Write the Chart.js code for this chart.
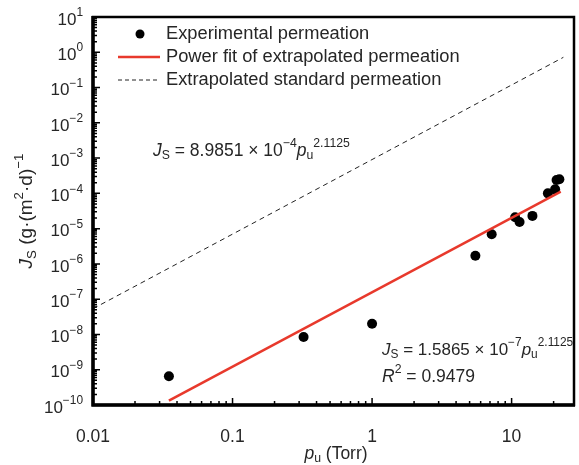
<!DOCTYPE html>
<html>
<head>
<meta charset="utf-8">
<script src="https://cdn.jsdelivr.net/npm/chart.js@4.4.1/dist/chart.umd.min.js"></script>
<style>
  html, body { margin: 0; padding: 0; background: #fff; }
  #wrap { width: 579px; height: 465px; position: relative; }
</style>
</head>
<body>
<div id="wrap"><canvas id="permChart"></canvas></div>
<script>
// measured points, p_u in Torr, J_S in g/(m2 d)
const expP = [0.035, 0.323, 1.0, 5.5, 7.2, 10.6, 11.4, 14.1, 18.2, 20.5, 21.0, 22.0];
const expJ = [6.5e-10, 8.5e-9, 2.0e-8, 1.7e-6, 6.9e-6, 2.1e-5, 1.55e-5, 2.3e-5, 1.0e-4, 1.3e-4, 2.4e-4, 2.5e-4];

// end points of the two power law lines
const fitP = [0.035, 22.5];
const fitJ = [1.33e-10, 1.12e-4];
const stdP = [0.01, 23.5];
const stdJ = [5.37e-8, 0.72];

const xDecades = [0.01, 0.1, 1, 10];
const xLabels = ['0.01', '0.1', '1', '10'];
const yExponents = [1, 0, -1, -2, -3, -4, -5, -6, -7, -8, -9, -10];

const FONT = '"Liberation Sans", Arial, sans-serif';
const RED = '#e8392c';
const TEXT = '#262626';

const pairs = (xs, ys) => xs.map((x, i) => ({ x: x, y: ys[i] }));

// draw a run of text pieces, each can be italic / sub / sup
const richText = (ctx, parts, x, y, size, align) => {
  const setFont = (p) => {
    const s = p.sub || p.sup ? size * 0.7 : size;
    ctx.font = (p.it ? 'italic ' : '') + s + 'px ' + FONT;
  };
  let total = parts.reduce((acc, p) => { setFont(p); return acc + ctx.measureText(p.t).width; }, 0);
  let cx = align == 'center' ? x - total / 2 : align == 'right' ? x - total : x;
  parts.forEach(p => {
    setFont(p);
    let dy = 0;
    if (p.sub) dy = size * 0.28;
    if (p.sup) dy = -size * 0.42;
    ctx.fillText(p.t, cx, y + dy);
    cx += ctx.measureText(p.t).width;
  });
};

const frame = {
  id: 'frame',
  afterDraw: (chart) => {
    const ctx = chart.ctx;
    const a = chart.chartArea;
    const xs = chart.scales.x;
    const ys = chart.scales.y;
    ctx.save();
    ctx.fillStyle = '#000';
    ctx.strokeStyle = '#000';

    // ticks, inward
    ctx.lineWidth = 1.5;
    ctx.beginPath();
    for (let e = -10; e <= 0; e++) {
      for (let m = 1; m <= 9; m++) {
        const v = m * Math.pow(10, e);
        const py = ys.getPixelForValue(v);
        const len = m == 1 ? 7 : 4;
        ctx.moveTo(a.left, py);
        ctx.lineTo(a.left + len, py);
      }
    }
    for (let e = -2; e <= 1; e++) {
      for (let m = 1; m <= 9; m++) {
        const v = m * Math.pow(10, e);
        if (v > xs.max) break;
        const px = xs.getPixelForValue(v);
        const len = m == 1 ? 7 : 4;
        ctx.moveTo(px, a.bottom);
        ctx.lineTo(px, a.bottom - len);
      }
    }
    ctx.stroke();

    // box
    ctx.lineWidth = 2.5;
    ctx.strokeRect(a.left, a.top, a.right - a.left, a.bottom - a.top);
    ctx.lineWidth = 3.5;
    ctx.beginPath();
    ctx.moveTo(a.left, a.top - 1);
    ctx.lineTo(a.left, a.bottom + 1.5);
    ctx.moveTo(a.left - 1.5, a.bottom);
    ctx.lineTo(a.right + 1, a.bottom);
    ctx.stroke();

    // tick labels
    ctx.fillStyle = TEXT;
    ctx.textBaseline = 'middle';
    yExponents.forEach(e => {
      const py = ys.getPixelForValue(Math.pow(10, e));
      richText(ctx, [{ t: '10' }, { t: String(e).replace('-', '\u2212'), sup: true }], 83, py + 3, 17, 'right');
    });
    xDecades.forEach((v, i) => {
      richText(ctx, [{ t: xLabels[i] }], xs.getPixelForValue(v), 437, 17.5, 'center');
    });

    // axis titles
    richText(ctx, [{ t: 'p', it: true }, { t: 'u', sub: true }, { t: ' (Torr)' }], 336, 454, 17.5, 'center');
    ctx.save();
    ctx.translate(27, 211);
    ctx.rotate(-Math.PI / 2);
    richText(ctx, [{ t: 'J', it: true }, { t: 'S', sub: true }, { t: ' (g\u00b7(m' }, { t: '2', sup: true }, { t: '\u00b7d)' }, { t: '\u22121', sup: true }],
      0, 0, 19, 'center');
    ctx.restore();

    // equations
    richText(ctx, [{ t: 'J', it: true }, { t: 'S', sub: true }, { t: ' = 8.9851 \u00d7 10' }, { t: '\u22124', sup: true },
      { t: 'p', it: true }, { t: 'u', sub: true }, { t: '2.1125', sup: true }], 153, 151, 17.5, 'left');
    richText(ctx, [{ t: 'J', it: true }, { t: 'S', sub: true }, { t: ' = 1.5865 \u00d7 10' }, { t: '\u22127', sup: true },
      { t: 'p', it: true }, { t: 'u', sub: true }, { t: '2.1125', sup: true }], 382, 350, 17, 'left');
    richText(ctx, [{ t: 'R', it: true }, { t: '2', sup: true }, { t: ' = 0.9479' }], 382, 377, 17.5, 'left');

    // legend
    ctx.fillStyle = '#000';
    ctx.beginPath();
    ctx.arc(140, 34, 4.5, 0, Math.PI * 2);
    ctx.fill();
    ctx.strokeStyle = RED;
    ctx.lineWidth = 2.5;
    ctx.beginPath();
    ctx.moveTo(118, 57);
    ctx.lineTo(160, 57);
    ctx.stroke();
    ctx.strokeStyle = '#222';
    ctx.lineWidth = 1;
    ctx.setLineDash([4, 3]);
    ctx.beginPath();
    ctx.moveTo(118, 80);
    ctx.lineTo(160, 80);
    ctx.stroke();
    ctx.setLineDash([]);
    ctx.fillStyle = TEXT;
    richText(ctx, [{ t: 'Experimental permeation' }], 166, 34, 18.3, 'left');
    richText(ctx, [{ t: 'Power fit of extrapolated permeation' }], 166, 57, 18.3, 'left');
    richText(ctx, [{ t: 'Extrapolated standard permeation' }], 166, 80, 18.3, 'left');
    ctx.restore();
  }
};

const chart = new Chart(document.getElementById('permChart'), {
  type: 'scatter',
  data: {
    datasets: [
      {
        label: 'Extrapolated standard permeation',
        data: pairs(stdP, stdJ),
        showLine: true,
        borderColor: '#222',
        borderWidth: 1,
        borderDash: [5, 4],
        pointRadius: 0
      },
      {
        label: 'Power fit of extrapolated permeation',
        data: pairs(fitP, fitJ),
        showLine: true,
        borderColor: RED,
        borderWidth: 2.5,
        pointRadius: 0
      },
      {
        label: 'Experimental permeation',
        data: pairs(expP, expJ),
        pointRadius: 5,
        pointBackgroundColor: '#000',
        pointBorderColor: '#000',
        borderWidth: 0
      }
    ]
  },
  options: {
    responsive: true,
    maintainAspectRatio: false,
    animation: false,
    layout: { padding: { left: 93, right: 3, top: 17, bottom: 60 } },
    plugins: { legend: { display: false }, tooltip: { enabled: false } },
    scales: {
      x: { type: 'logarithmic', min: 0.01, max: 28, display: false },
      y: { type: 'logarithmic', min: 1e-10, max: 10, display: false }
    }
  },
  plugins: [frame]
});
</script>
</body>
</html>
